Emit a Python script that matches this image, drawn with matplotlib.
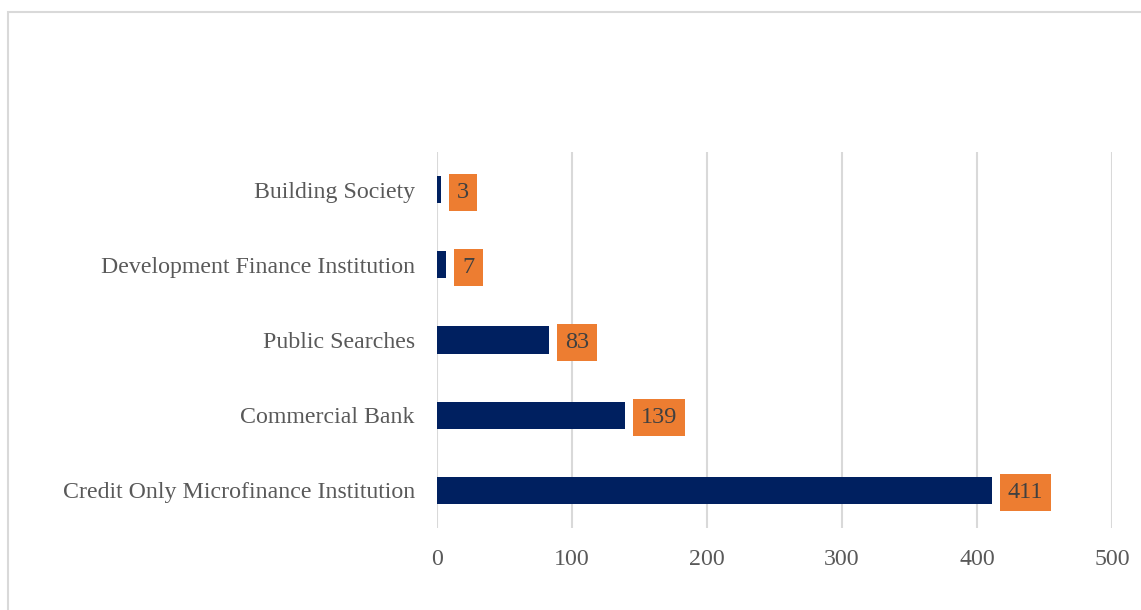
import matplotlib.pyplot as plt
from matplotlib.patches import Rectangle

categories = ["Credit Only Microfinance Institution", "Commercial Bank",
              "Public Searches", "Development Finance Institution", "Building Society"]
counts = [411, 139, 83, 7, 3]
xticks = [0, 100, 200, 300, 400, 500]

plt.rcParams["font.family"] = ["Liberation Serif", "DejaVu Serif"]

fig = plt.figure(figsize=(11.41, 6.10), dpi=100)
ax = fig.add_axes([437 / 1141, 1 - 528 / 610, 675 / 1141, 376 / 610])

# light frame round the chart area
fig.patches.append(Rectangle((8 / 1141, -0.05), 1.1, 1 - 12 / 610 + 0.05,
                             transform=fig.transFigure, fill=False,
                             edgecolor="#d9d9d9", linewidth=1.5))

ax.barh(categories, counts, height=0.36, color="#002060", zorder=3)

for y, v in enumerate(counts):
    ax.annotate(str(v), xy=(v, y), xytext=(16, 0), textcoords="offset pixels",
                ha="left", va="center_baseline", fontsize=17.5, color="#404040",
                bbox=dict(boxstyle="square,pad=0.33", facecolor="#ED7D31",
                          edgecolor="none"), zorder=4)

ax.set_xlim(0, 500)
ax.set_ylim(-0.5, 4.5)
ax.set_xticks(xticks)
ax.grid(axis="x", color="#d9d9d9", linewidth=1.5, zorder=0)
for s in ax.spines.values():
    s.set_visible(False)
ax.tick_params(length=0, labelsize=17.2, labelcolor="#595959")
ax.tick_params(axis="x", pad=15)
ax.tick_params(axis="y", pad=16)

fig.savefig("out.png", dpi=100)
plt.close()
